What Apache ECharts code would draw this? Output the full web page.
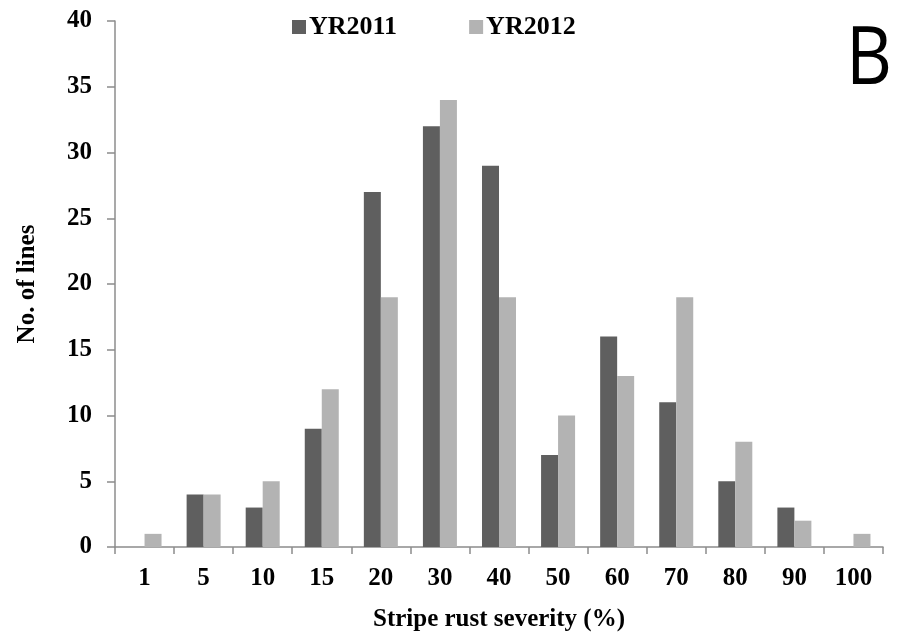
<!DOCTYPE html>
<html><head><meta charset="utf-8">
<script src="https://cdn.jsdelivr.net/npm/echarts@6/dist/echarts.min.js"></script>
<style>html,body{margin:0;padding:0;background:#fff}#c{width:899px;height:644px}</style>
</head><body><div id="c"></div>
<script>
var categories = ['1','5','10','15','20','30','40','50','60','70','80','90','100'];
var yr2011 = [0,4,3,9,27,32,29,7,16,11,5,3,0];
var yr2012 = [1,4,5,12,19,34,19,10,13,19,8,2,1];
var seriesNames = ['YR2011','YR2012'];
var panelLabel = 'B';

var chart = echarts.init(document.getElementById('c'));
var font = 'Liberation Serif';
chart.setOption({
  animation: false,
  backgroundColor: '#fff',
  graphic: [{
    type: 'text', left: 846, top: 20, scaleX: 0.88,
    style: {text: panelLabel, fontFamily: 'Open Sans', fontWeight: 'normal', fontSize: 81, fill: '#000'}
  }],
  legend: {
    left: 287, top: 9, itemWidth: 14, itemHeight: 14, itemGap: 72,
    icon: 'rect',
    textStyle: {fontFamily: font, fontWeight: 'bold', fontSize: 26, color: '#000', padding: [0,0,0,-2]}
  },
  grid: {left: 115, right: 16, top: 21, bottom: 97},
  xAxis: {
    type: 'category', data: categories,
    name: 'Stripe rust severity (%)', nameLocation: 'middle', nameGap: 60,
    nameTextStyle: {fontFamily: font, fontWeight: 'bold', fontSize: 25, color: '#000'},
    axisLine: {lineStyle: {color: '#8c8c8c', width: 1.5}},
    axisTick: {show: true, length: 7, lineStyle: {color: '#8c8c8c', width: 1.5}},
    axisLabel: {fontFamily: font, fontWeight: 'bold', fontSize: 25, color: '#000', margin: 19}
  },
  yAxis: {
    type: 'value', min: 0, max: 40, interval: 5,
    name: 'No. of lines', nameLocation: 'middle', nameGap: 75, nameRotate: 90,
    nameTextStyle: {fontFamily: font, fontWeight: 'bold', fontSize: 25, color: '#000'},
    splitLine: {show: false},
    axisLine: {show: true, lineStyle: {color: '#8c8c8c', width: 1.5}},
    axisTick: {show: true, length: 8, lineStyle: {color: '#8c8c8c', width: 1.5}},
    axisLabel: {fontFamily: font, fontWeight: 'bold', fontSize: 25, color: '#000', margin: 23}
  },
  series: [
    {name: seriesNames[0], type: 'bar', data: yr2011, barWidth: 17, barGap: '0%',
     itemStyle: {color: '#5f5f5f'}},
    {name: seriesNames[1], type: 'bar', data: yr2012, barWidth: 17,
     itemStyle: {color: '#b3b3b3'}}
  ]
});
</script></body></html>
